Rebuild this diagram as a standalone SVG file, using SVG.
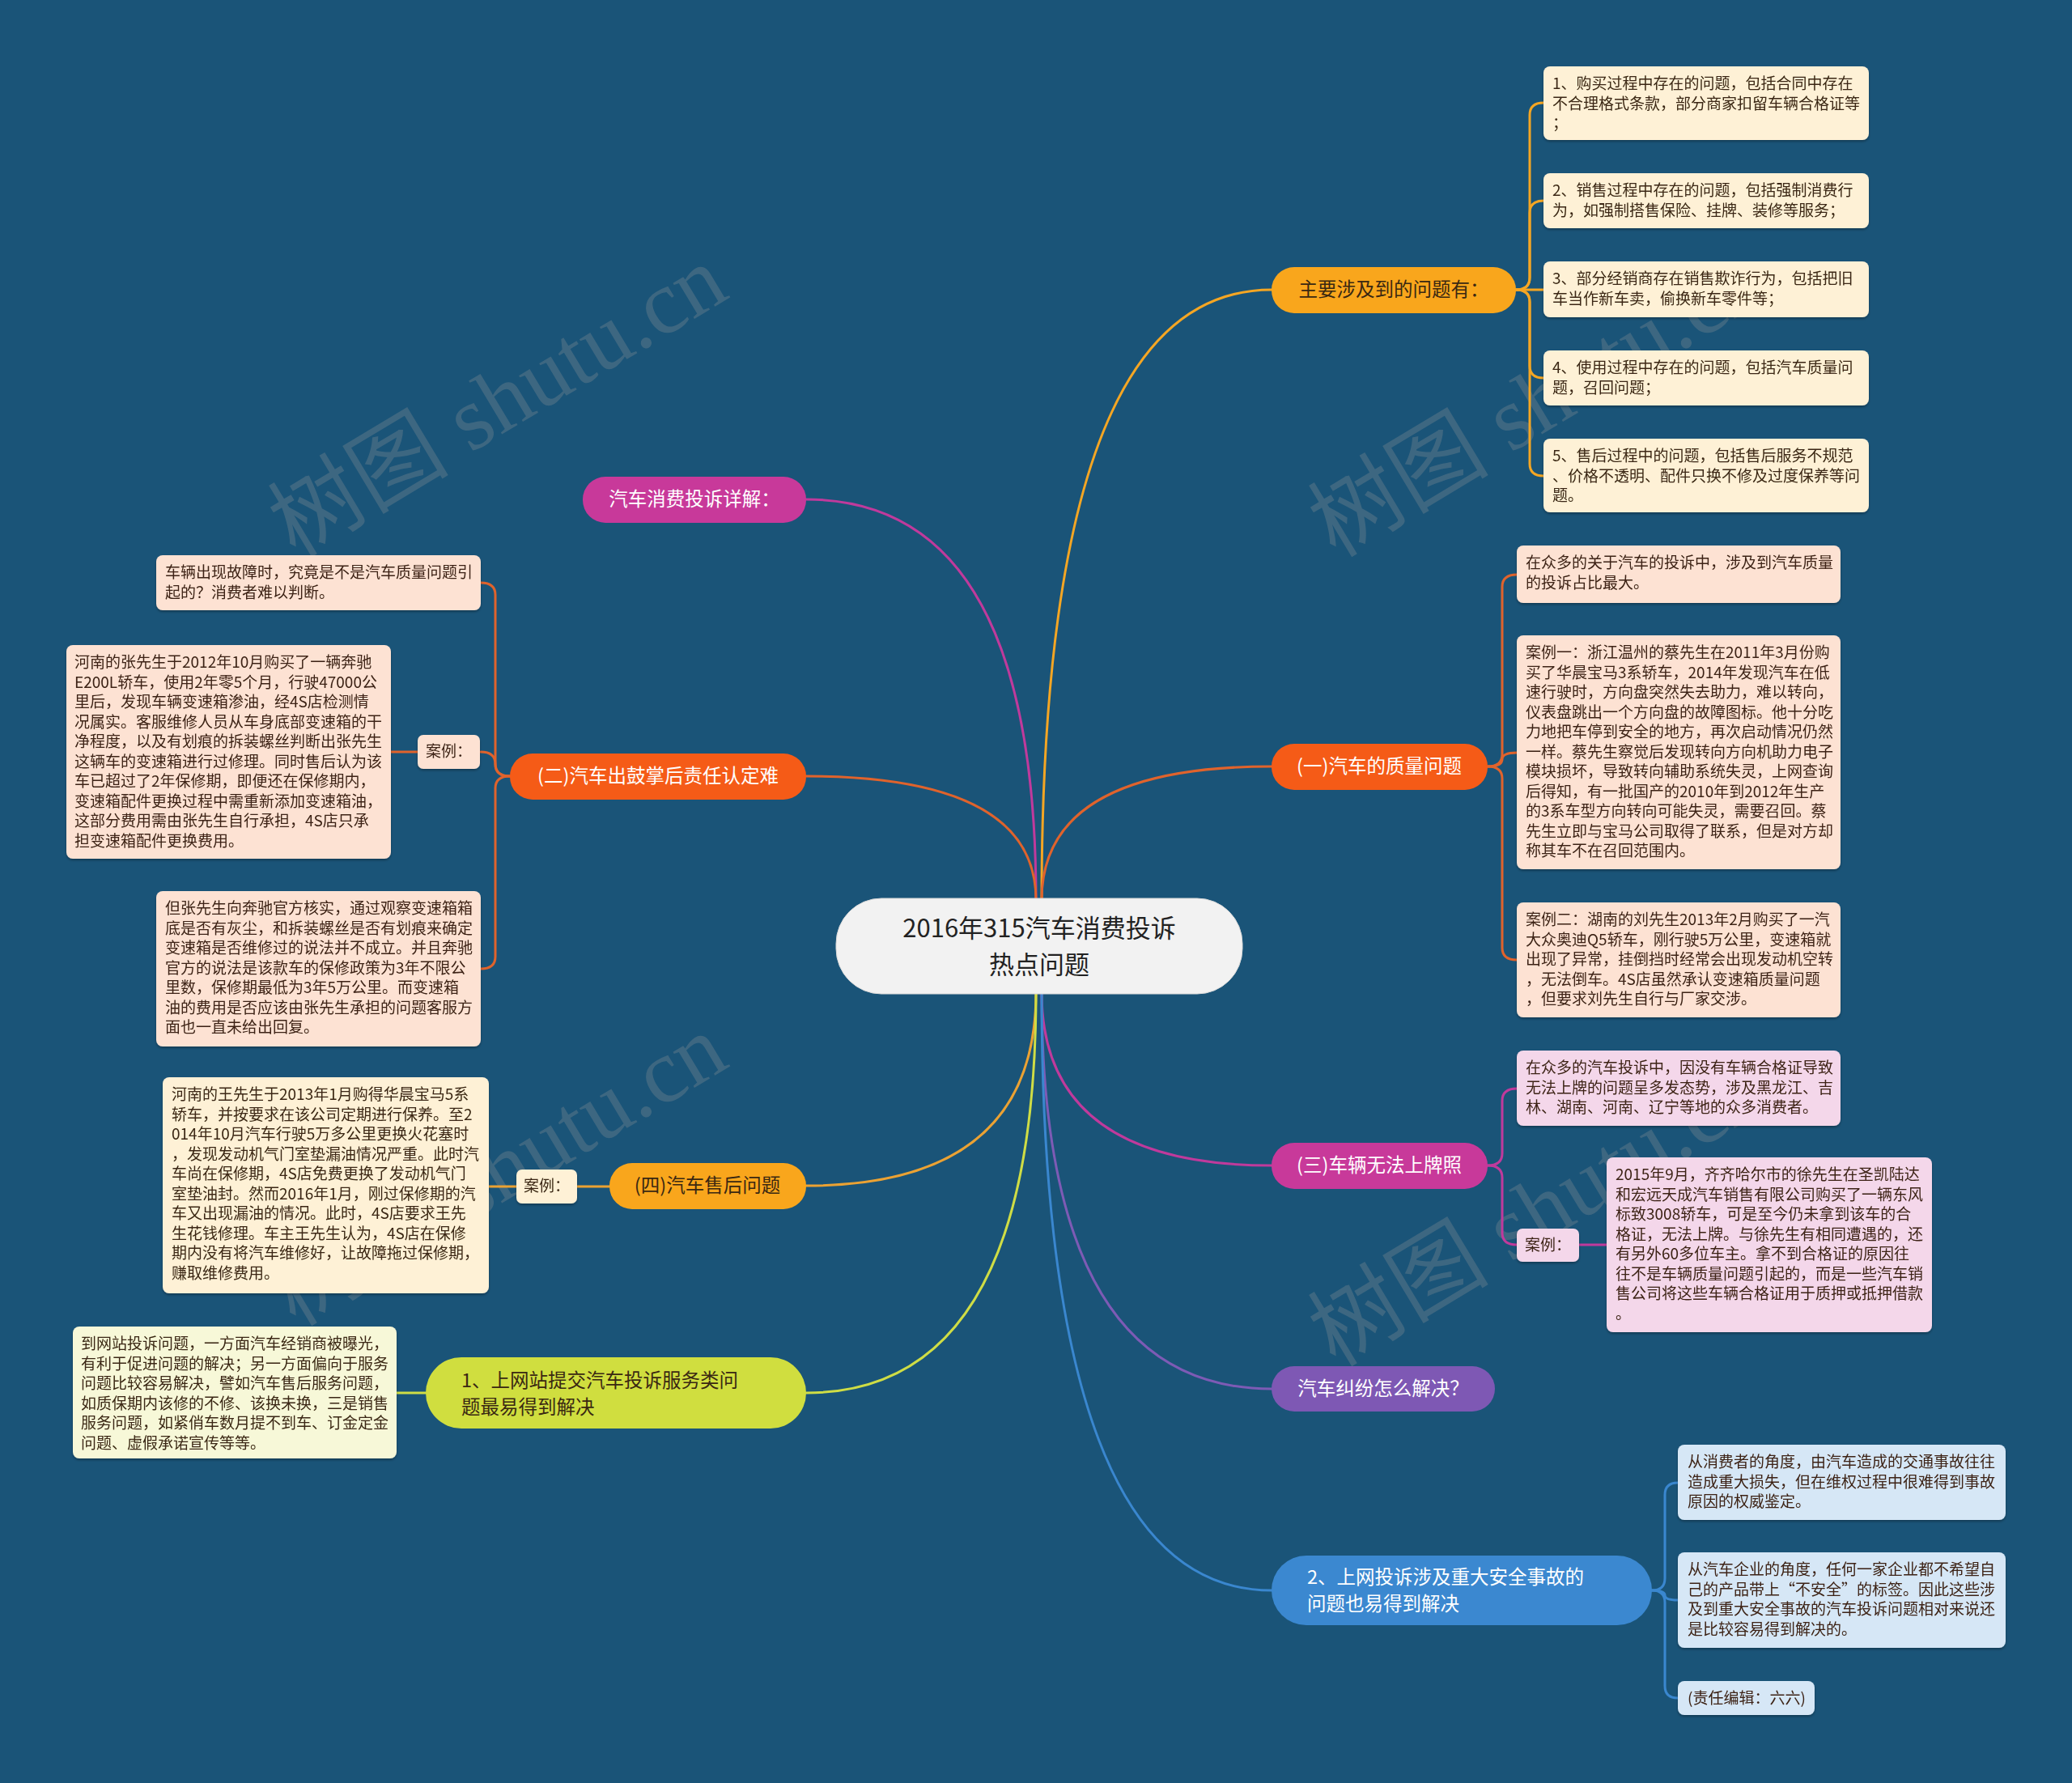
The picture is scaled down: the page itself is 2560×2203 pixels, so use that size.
<svg xmlns="http://www.w3.org/2000/svg" width="2560" height="2203" viewBox="0 0 2560 2203">
<defs>
<style>
text{font-family:"Noto Sans CJK SC","Noto Sans",sans-serif}
.lf{font-size:19px}
.mn{font-size:23.5px}
.c{fill:none;stroke-width:3;stroke-linecap:round}
.wm{font-family:"Liberation Serif","Noto Sans CJK SC",serif;font-size:112px;fill:#9a9a9a;fill-opacity:0.28}
.dark{fill:#3a2812}
.wht{fill:#ffffff}
.lbrown{fill:#3d2416}
</style>
<filter id="sh" x="-5%" y="-5%" width="110%" height="115%"><feDropShadow dx="0" dy="2" stdDeviation="1.5" flood-color="#000" flood-opacity="0.3"/></filter>
</defs>
<rect width="2560" height="2203" fill="#1A5478"/>

<g id="watermarks">
<text class="wm" transform="translate(365 690) rotate(-31)">树图 shutu.cn</text>
<text class="wm" transform="translate(1650 690) rotate(-31)">树图 shutu.cn</text>
<text class="wm" transform="translate(365 1640) rotate(-31)">树图 shutu.cn</text>
<text class="wm" transform="translate(1650 1690) rotate(-31)">树图 shutu.cn</text>
</g>

<g id="connectors">
<path class="c" stroke="#F5A623" d="M1287,1112 Q1287,358 1571,358"/>
<path class="c" stroke="#E0632C" d="M1287,1112 Q1287,947 1571,947"/>
<path class="c" stroke="#C03A9C" d="M1280,1112 Q1280,617 996,617"/>
<path class="c" stroke="#E0632C" d="M1280,1112 Q1280,959 996,959"/>
<path class="c" stroke="#EBA233" d="M1280,1226 Q1280,1465 996,1465"/>
<path class="c" stroke="#CFDD45" d="M1280,1226 Q1280,1721 996,1721"/>
<path class="c" stroke="#C03A9C" d="M1287,1226 Q1287,1440 1571,1440"/>
<path class="c" stroke="#7D5BB5" d="M1287,1226 Q1287,1716 1571,1716"/>
<path class="c" stroke="#3A87CF" d="M1287,1226 Q1287,1965 1571,1965"/>
<path class="c" stroke="#F5A623" d="M1873,358 Q1890,358 1890,343 L1890,142 Q1890,127 1907,127"/>
<path class="c" stroke="#F5A623" d="M1873,358 Q1890,358 1890,343 L1890,263 Q1890,248 1907,248"/>
<path class="c" stroke="#F5A623" d="M1873,358 L1907,358"/>
<path class="c" stroke="#F5A623" d="M1873,358 Q1890,358 1890,373 L1890,452 Q1890,467 1907,467"/>
<path class="c" stroke="#F5A623" d="M1873,358 Q1890,358 1890,373 L1890,573 Q1890,588 1907,588"/>
<path class="c" stroke="#E0632C" d="M1838,947 Q1856,947 1856,932 L1856,725 Q1856,710 1874,710"/>
<path class="c" stroke="#E0632C" d="M1838,947 Q1856,947 1856,938 Q1856,930 1874,930"/>
<path class="c" stroke="#E0632C" d="M1838,947 Q1856,947 1856,962 L1856,1171 Q1856,1186 1874,1186"/>
<path class="c" stroke="#C03A9C" d="M1838,1440 Q1856,1440 1856,1425 L1856,1360 Q1856,1345 1874,1345"/>
<path class="c" stroke="#C03A9C" d="M1838,1440 Q1856,1440 1856,1455 L1856,1523 Q1856,1538 1874,1538"/>
<path class="c" stroke="#C03A9C" d="M1951,1538 L1985,1538"/>
<path class="c" stroke="#3A87CF" d="M2041,1965 Q2057,1965 2057,1950 L2057,1847 Q2057,1832 2073,1832"/>
<path class="c" stroke="#3A87CF" d="M2041,1965 Q2057,1965 2057,1971 Q2057,1977 2073,1977"/>
<path class="c" stroke="#3A87CF" d="M2041,1965 Q2057,1965 2057,1980 L2057,2083 Q2057,2098 2073,2098"/>
<path class="c" stroke="#E0632C" d="M630,959 Q612,959 612,944 L612,735 Q612,720 594,720"/>
<path class="c" stroke="#E0632C" d="M630,959 Q612,959 612,944 Q612,929 594,929"/>
<path class="c" stroke="#E0632C" d="M630,959 Q612,959 612,974 L612,1182 Q612,1197 594,1197"/>
<path class="c" stroke="#E0632C" d="M516,929 L483,929"/>
<path class="c" stroke="#EBA233" d="M753,1466 L713,1466"/>
<path class="c" stroke="#EBA233" d="M638,1466 L604,1466"/>
<path class="c" stroke="#CFDD45" d="M526,1721 L490,1721"/>
</g>

<g id="center">
<rect x="1033" y="1110" width="502" height="118" rx="56" fill="#F2F2F2" stroke="#DADADA" stroke-width="1"/>
<text x="1284" y="1158" font-size="31" text-anchor="middle" fill="#222">2016年315汽车消费投诉</text>
<text x="1284" y="1203" font-size="31" text-anchor="middle" fill="#222">热点问题</text>
</g>

<g id="n-main">
<rect x="1571" y="330" width="302" height="57" rx="28" fill="#F9A61C"/>
<text class="mn dark" x="1722" y="366" text-anchor="middle">主要涉及到的问题有：</text>
</g>
<g id="n-q1">
<rect x="1571" y="919" width="267" height="57" rx="28" fill="#F55B17"/>
<text class="mn wht" x="1704" y="955" text-anchor="middle">(一)汽车的质量问题</text>
</g>
<g id="n-q3">
<rect x="1571" y="1412" width="267" height="57" rx="28" fill="#C8399A"/>
<text class="mn wht" x="1704" y="1448" text-anchor="middle">(三)车辆无法上牌照</text>
</g>
<g id="n-jf">
<rect x="1571" y="1688" width="276" height="56" rx="28" fill="#7E58B4"/>
<text class="mn wht" x="1709" y="1724" text-anchor="middle">汽车纠纷怎么解决？</text>
</g>
<g id="n-s2">
<rect x="1571" y="1922" width="470" height="86" rx="43" fill="#3B88D0"/>
<text class="mn wht" x="1615" y="1957">2、上网投诉涉及重大安全事故的</text>
<text class="mn wht" x="1615" y="1990">问题也易得到解决</text>
</g>
<g id="n-xj">
<rect x="720" y="589" width="276" height="57" rx="28" fill="#C8399A"/>
<text class="mn wht" x="858" y="625" text-anchor="middle">汽车消费投诉详解：</text>
</g>
<g id="n-q2">
<rect x="630" y="931" width="366" height="57" rx="28" fill="#F55B17"/>
<text class="mn wht" x="813" y="967" text-anchor="middle">(二)汽车出鼓掌后责任认定难</text>
</g>
<g id="n-q4">
<rect x="753" y="1437" width="243" height="57" rx="28" fill="#F9A61C"/>
<text class="mn dark" x="874" y="1473" text-anchor="middle">(四)汽车售后问题</text>
</g>
<g id="n-s1">
<rect x="526" y="1677" width="470" height="88" rx="44" fill="#D0DE3F"/>
<text class="mn dark" x="570" y="1714">1、上网站提交汽车投诉服务类问</text>
<text class="mn dark" x="570" y="1747">题最易得到解决</text>
</g>

<g id="l-m1" filter="url(#sh)">
<rect x="1907" y="82" width="402" height="91" rx="8" fill="#FEF1D6"/>
<text class="lf dark"><tspan x="1918" y="110">1、购买过程中存在的问题，包括合同中存在</tspan><tspan x="1918" y="134.5">不合理格式条款，部分商家扣留车辆合格证等</tspan><tspan x="1918" y="159">；</tspan></text>
</g>
<g id="l-m2" filter="url(#sh)">
<rect x="1907" y="214" width="402" height="68" rx="8" fill="#FEF1D6"/>
<text class="lf dark"><tspan x="1918" y="242">2、销售过程中存在的问题，包括强制消费行</tspan><tspan x="1918" y="266.5">为，如强制搭售保险、挂牌、装修等服务；</tspan></text>
</g>
<g id="l-m3" filter="url(#sh)">
<rect x="1907" y="323" width="402" height="69" rx="8" fill="#FEF1D6"/>
<text class="lf dark"><tspan x="1918" y="351">3、部分经销商存在销售欺诈行为，包括把旧</tspan><tspan x="1918" y="375.5">车当作新车卖，偷换新车零件等；</tspan></text>
</g>
<g id="l-m4" filter="url(#sh)">
<rect x="1907" y="433" width="402" height="68" rx="8" fill="#FEF1D6"/>
<text class="lf dark"><tspan x="1918" y="461">4、使用过程中存在的问题，包括汽车质量问</tspan><tspan x="1918" y="485.5">题，召回问题；</tspan></text>
</g>
<g id="l-m5" filter="url(#sh)">
<rect x="1907" y="542" width="402" height="91" rx="8" fill="#FEF1D6"/>
<text class="lf dark"><tspan x="1918" y="570">5、售后过程中的问题，包括售后服务不规范</tspan><tspan x="1918" y="594.5">、价格不透明、配件只换不修及过度保养等问</tspan><tspan x="1918" y="619">题。</tspan></text>
</g>

<g id="l-q1a" filter="url(#sh)">
<rect x="1874" y="674" width="400" height="71" rx="8" fill="#FDE2D3"/>
<text class="lf lbrown"><tspan x="1885" y="702">在众多的关于汽车的投诉中，涉及到汽车质量</tspan><tspan x="1885" y="726.5">的投诉占比最大。</tspan></text>
</g>
<g id="l-q1b" filter="url(#sh)">
<rect x="1874" y="785" width="400" height="289" rx="8" fill="#FDE2D3"/>
<text class="lf lbrown"><tspan x="1885" y="813">案例一：浙江温州的蔡先生在2011年3月份购</tspan><tspan x="1885" y="837.5">买了华晨宝马3系轿车，2014年发现汽车在低</tspan><tspan x="1885" y="862">速行驶时，方向盘突然失去助力，难以转向，</tspan><tspan x="1885" y="886.5">仪表盘跳出一个方向盘的故障图标。他十分吃</tspan><tspan x="1885" y="911">力地把车停到安全的地方，再次启动情况仍然</tspan><tspan x="1885" y="935.5">一样。蔡先生察觉后发现转向方向机助力电子</tspan><tspan x="1885" y="960">模块损坏，导致转向辅助系统失灵，上网查询</tspan><tspan x="1885" y="984.5">后得知，有一批国产的2010年到2012年生产</tspan><tspan x="1885" y="1009">的3系车型方向转向可能失灵，需要召回。蔡</tspan><tspan x="1885" y="1033.5">先生立即与宝马公司取得了联系，但是对方却</tspan><tspan x="1885" y="1058">称其车不在召回范围内。</tspan></text>
</g>
<g id="l-q1c" filter="url(#sh)">
<rect x="1874" y="1115" width="400" height="142" rx="8" fill="#FDE2D3"/>
<text class="lf lbrown"><tspan x="1885" y="1143">案例二：湖南的刘先生2013年2月购买了一汽</tspan><tspan x="1885" y="1167.5">大众奥迪Q5轿车，刚行驶5万公里，变速箱就</tspan><tspan x="1885" y="1192">出现了异常，挂倒挡时经常会出现发动机空转</tspan><tspan x="1885" y="1216.5">，无法倒车。4S店虽然承认变速箱质量问题</tspan><tspan x="1885" y="1241">，但要求刘先生自行与厂家交涉。</tspan></text>
</g>

<g id="l-q3a" filter="url(#sh)">
<rect x="1874" y="1298" width="400" height="93" rx="8" fill="#F4D7EA"/>
<text class="lf lbrown"><tspan x="1885" y="1326">在众多的汽车投诉中，因没有车辆合格证导致</tspan><tspan x="1885" y="1350.5">无法上牌的问题呈多发态势，涉及黑龙江、吉</tspan><tspan x="1885" y="1375">林、湖南、河南、辽宁等地的众多消费者。</tspan></text>
</g>
<g id="l-q3case" filter="url(#sh)">
<rect x="1874" y="1518" width="77" height="41" rx="7" fill="#F4D7EA"/>
<text class="lf lbrown" x="1884" y="1545">案例：</text>
</g>
<g id="l-q3b" filter="url(#sh)">
<rect x="1985" y="1430" width="402" height="216" rx="8" fill="#F4D7EA"/>
<text class="lf lbrown"><tspan x="1996" y="1458">2015年9月，齐齐哈尔市的徐先生在圣凯陆达</tspan><tspan x="1996" y="1482.5">和宏远天成汽车销售有限公司购买了一辆东风</tspan><tspan x="1996" y="1507">标致3008轿车，可是至今仍未拿到该车的合</tspan><tspan x="1996" y="1531.5">格证，无法上牌。与徐先生有相同遭遇的，还</tspan><tspan x="1996" y="1556">有另外60多位车主。拿不到合格证的原因往</tspan><tspan x="1996" y="1580.5">往不是车辆质量问题引起的，而是一些汽车销</tspan><tspan x="1996" y="1605">售公司将这些车辆合格证用于质押或抵押借款</tspan><tspan x="1996" y="1629.5">。</tspan></text>
</g>

<g id="l-s2a" filter="url(#sh)">
<rect x="2073" y="1785" width="405" height="93" rx="8" fill="#D6E7F6"/>
<text class="lf lbrown"><tspan x="2085" y="1813">从消费者的角度，由汽车造成的交通事故往往</tspan><tspan x="2085" y="1837.5">造成重大损失，但在维权过程中很难得到事故</tspan><tspan x="2085" y="1862">原因的权威鉴定。</tspan></text>
</g>
<g id="l-s2b" filter="url(#sh)">
<rect x="2073" y="1918" width="405" height="118" rx="8" fill="#D6E7F6"/>
<text class="lf lbrown"><tspan x="2085" y="1946">从汽车企业的角度，任何一家企业都不希望自</tspan><tspan x="2085" y="1970.5">己的产品带上“不安全”的标签。因此这些涉</tspan><tspan x="2085" y="1995">及到重大安全事故的汽车投诉问题相对来说还</tspan><tspan x="2085" y="2019.5">是比较容易得到解决的。</tspan></text>
</g>
<g id="l-s2c" filter="url(#sh)">
<rect x="2073" y="2077" width="169" height="42" rx="8" fill="#D6E7F6"/>
<text class="lf lbrown" x="2085" y="2105">(责任编辑：六六)</text>
</g>

<g id="l-q2a" filter="url(#sh)">
<rect x="193" y="686" width="401" height="68" rx="8" fill="#FDE2D3"/>
<text class="lf lbrown"><tspan x="204" y="714">车辆出现故障时，究竟是不是汽车质量问题引</tspan><tspan x="204" y="738.5">起的？消费者难以判断。</tspan></text>
</g>
<g id="l-q2case" filter="url(#sh)">
<rect x="516" y="908" width="77" height="42" rx="7" fill="#FDE2D3"/>
<text class="lf lbrown" x="526" y="935">案例：</text>
</g>
<g id="l-q2b" filter="url(#sh)">
<rect x="82" y="797" width="401" height="264" rx="8" fill="#FDE2D3"/>
<text class="lf lbrown"><tspan x="92" y="825">河南的张先生于2012年10月购买了一辆奔驰</tspan><tspan x="92" y="849.5">E200L轿车，使用2年零5个月，行驶47000公</tspan><tspan x="92" y="874">里后，发现车辆变速箱渗油，经4S店检测情</tspan><tspan x="92" y="898.5">况属实。客服维修人员从车身底部变速箱的干</tspan><tspan x="92" y="923">净程度，以及有划痕的拆装螺丝判断出张先生</tspan><tspan x="92" y="947.5">这辆车的变速箱进行过修理。同时售后认为该</tspan><tspan x="92" y="972">车已超过了2年保修期，即便还在保修期内，</tspan><tspan x="92" y="996.5">变速箱配件更换过程中需重新添加变速箱油，</tspan><tspan x="92" y="1021">这部分费用需由张先生自行承担，4S店只承</tspan><tspan x="92" y="1045.5">担变速箱配件更换费用。</tspan></text>
</g>
<g id="l-q2c" filter="url(#sh)">
<rect x="193" y="1101" width="401" height="192" rx="8" fill="#FDE2D3"/>
<text class="lf lbrown"><tspan x="204" y="1129">但张先生向奔驰官方核实，通过观察变速箱箱</tspan><tspan x="204" y="1153.5">底是否有灰尘，和拆装螺丝是否有划痕来确定</tspan><tspan x="204" y="1178">变速箱是否维修过的说法并不成立。并且奔驰</tspan><tspan x="204" y="1202.5">官方的说法是该款车的保修政策为3年不限公</tspan><tspan x="204" y="1227">里数，保修期最低为3年5万公里。而变速箱</tspan><tspan x="204" y="1251.5">油的费用是否应该由张先生承担的问题客服方</tspan><tspan x="204" y="1276">面也一直未给出回复。</tspan></text>
</g>

<g id="l-q4case" filter="url(#sh)">
<rect x="638" y="1445" width="75" height="42" rx="7" fill="#FEF1D6"/>
<text class="lf dark" x="647" y="1472">案例：</text>
</g>
<g id="l-q4a" filter="url(#sh)">
<rect x="201" y="1331" width="403" height="267" rx="8" fill="#FEF1D6"/>
<text class="lf dark"><tspan x="212" y="1359">河南的王先生于2013年1月购得华晨宝马5系</tspan><tspan x="212" y="1383.5">轿车，并按要求在该公司定期进行保养。至2</tspan><tspan x="212" y="1408">014年10月汽车行驶5万多公里更换火花塞时</tspan><tspan x="212" y="1432.5">，发现发动机气门室垫漏油情况严重。此时汽</tspan><tspan x="212" y="1457">车尚在保修期，4S店免费更换了发动机气门</tspan><tspan x="212" y="1481.5">室垫油封。然而2016年1月，刚过保修期的汽</tspan><tspan x="212" y="1506">车又出现漏油的情况。此时，4S店要求王先</tspan><tspan x="212" y="1530.5">生花钱修理。车主王先生认为，4S店在保修</tspan><tspan x="212" y="1555">期内没有将汽车维修好，让故障拖过保修期，</tspan><tspan x="212" y="1579.5">赚取维修费用。</tspan></text>
</g>

<g id="l-s1a" filter="url(#sh)">
<rect x="90" y="1639" width="400" height="163" rx="8" fill="#F7F8D8"/>
<text class="lf dark"><tspan x="100" y="1667">到网站投诉问题，一方面汽车经销商被曝光，</tspan><tspan x="100" y="1691.5">有利于促进问题的解决；另一方面偏向于服务</tspan><tspan x="100" y="1716">问题比较容易解决，譬如汽车售后服务问题，</tspan><tspan x="100" y="1740.5">如质保期内该修的不修、该换未换，三是销售</tspan><tspan x="100" y="1765">服务问题，如紧俏车数月提不到车、订金定金</tspan><tspan x="100" y="1789.5">问题、虚假承诺宣传等等。</tspan></text>
</g>
</svg>
